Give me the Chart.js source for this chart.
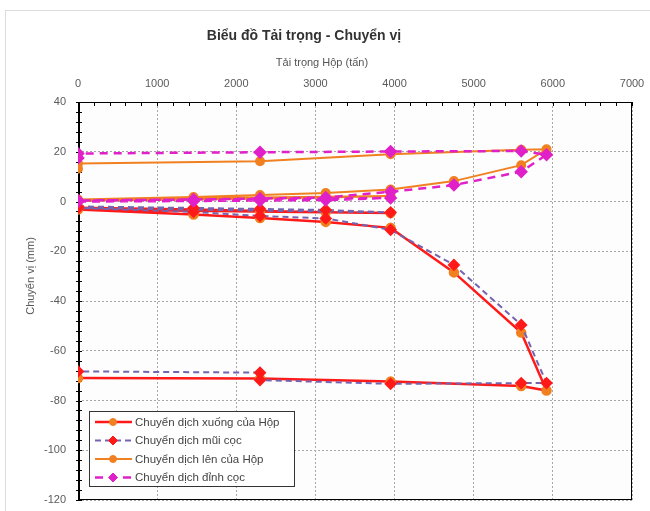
<!DOCTYPE html>
<html>
<head>
<meta charset="utf-8">
<script src="https://cdn.jsdelivr.net/npm/chart.js@4.4.0/dist/chart.umd.min.js"></script>
<style>
body { margin: 0; background: #fff; font-family: "Liberation Sans", Arial, sans-serif; }
#wrap { position: relative; width: 650px; height: 511px; overflow: hidden; }
#frame { position: absolute; left: 5px; top: 10px; width: 700px; height: 600px; border-left: 1px solid #dcdcdc; border-top: 1px solid #dcdcdc; }
canvas { position: absolute; left: 0; top: 0; }
.t { position: absolute; white-space: nowrap; text-align: center; }
#title { left: 0; top: 27px; width: 608px; font-weight: bold; font-size: 14px; line-height: 16px; color: #333; }
#xtitle { left: 0; top: 56px; width: 644px; font-size: 11px; line-height: 13px; color: #555; }
#ytitle { left: -70px; top: 269px; width: 200px; font-size: 11px; line-height: 14px; color: #555; transform: rotate(-90deg); }
</style>
</head>
<body>
<div id="wrap">
  <div id="frame"></div>
  <canvas id="myChart" width="650" height="511"></canvas>
  <div class="t" id="title">Biểu đồ Tải trọng - Chuyển vị</div>
  <div class="t" id="xtitle">Tải trọng Hộp (tấn)</div>
  <div class="t" id="ytitle">Chuyển vị (mm)</div>
</div>
<script>
'use strict';

// tai trong (tan) va chuyen vi (mm), doc tu bieu do
var seriesNames = ['Chuyển dịch xuống của Hộp', 'Chuyển dịch mũi cọc', 'Chuyển dịch lên của Hộp', 'Chuyển dịch đỉnh cọc'];

var downLoad = [0, 1460, 2300, 3130, 3950, 0, 1460, 2300, 3130, 3950, 4750, 5600, 5920, 5600, 3950, 2300, 0];
var downBox  = [-2.5, -3.2, -3.8, -4.3, -4.6, -3.2, -5.2, -6.6, -8.2, -10.6, -28.5, -52.7, -76, -74.2, -72.4, -71.2, -71];

var toeLoad = [0, 1460, 2300, 3130, 3950, 0, 1460, 2300, 3130, 3950, 4750, 5600, 5920, 5600, 3950, 2300, 2300, 0];
var toeDisp = [-2, -2.6, -3, -3.4, -4.4, -2.6, -4.2, -5.8, -6.8, -11.4, -25.5, -49.6, -73, -73, -73.3, -71.8, -68.8, -68.3];

var upLoad = [0, 1460, 2300, 3130, 3950, 0, 1460, 2300, 3130, 3950, 4750, 5600, 5920, 5600, 3950, 2300, 0, 0];
var upBox  = [0.3, 0.8, 1.2, 1.6, 2.2, 0.8, 1.8, 2.6, 3.4, 4.8, 8.2, 14.6, 21, 20.8, 19, 16.2, 15.3, 13.2];

var headLoad = [0, 1460, 2300, 3130, 3950, 0, 1460, 2300, 3130, 3950, 4750, 5600, 5920, 5600, 3950, 2300, 0, 0];
var headDisp = [0, 0.2, 0.4, 0.6, 1.4, 0.4, 0.8, 1.2, 1.6, 3.9, 6.6, 12, 18.8, 20.3, 20.1, 19.8, 19.3, 17.5];

var xMin = 0, xMax = 7000, xMajor = 1000, xMinor = 200;
var yMin = -120, yMax = 40, yMajor = 20, yMinor = 4;

function pts(xs, ys){
    return xs.map(function(x, i){ return { x: x, y: ys[i] }; });
}

var FONT = '"Liberation Sans", Arial, sans-serif';

var plotFrame = {
    id: 'plotFrame',
    beforeDraw: function(chart){
        var a = chart.chartArea, ctx = chart.ctx;
        ctx.save();
        ctx.fillStyle = '#fdfdfd';
        ctx.fillRect(a.left, a.top, a.right - a.left, a.bottom - a.top);
        ctx.restore();
    },
    beforeDatasetsDraw: function(chart){
        var a = chart.chartArea, ctx = chart.ctx;
        ctx.save();
        ctx.strokeStyle = '#000';
        ctx.lineWidth = 1;
        ctx.strokeRect(Math.round(a.left) + 0.5, Math.round(a.top) + 0.5, Math.round(a.right - a.left) - 1, Math.round(a.bottom - a.top) - 1);
        ctx.beginPath();
        ctx.moveTo(Math.round(a.left) + 1.5, a.top);
        ctx.lineTo(Math.round(a.left) + 1.5, a.bottom);
        // tick marks across the frame
        chart.scales.x.ticks.forEach(function(t){
            var px = Math.round(chart.scales.x.getPixelForValue(t.value)) + 0.5;
            ctx.moveTo(px, a.top);
            ctx.lineTo(px, a.top + 4);
        });
        chart.scales.y.ticks.forEach(function(t){
            var py = Math.round(chart.scales.y.getPixelForValue(t.value)) + 0.5;
            ctx.moveTo(a.left - 2, py);
            ctx.lineTo(a.left + 4, py);
        });
        ctx.stroke();
        ctx.restore();
    }
};

var boxLegend = {
    id: 'boxLegend',
    afterDraw: function(chart){
        var ctx = chart.ctx;
        var x0 = 89.5, y0 = 411.5, w = 205, h = 75;
        ctx.save();
        ctx.fillStyle = '#fff';
        ctx.fillRect(x0, y0, w, h);
        ctx.strokeStyle = '#333';
        ctx.lineWidth = 1;
        ctx.strokeRect(x0, y0, w, h);
        chart.data.datasets.forEach(function(ds, i){
            var y = 422 + i * 18.5;
            ctx.save();
            ctx.strokeStyle = ds.borderColor;
            ctx.lineWidth = ds.borderWidth;
            ctx.setLineDash(ds.borderDash || []);
            ctx.beginPath();
            ctx.moveTo(95, y);
            ctx.lineTo(132, y);
            ctx.stroke();
            ctx.restore();
            ctx.fillStyle = ds.pointBackgroundColor;
            ctx.strokeStyle = ds.pointBorderColor;
            ctx.lineWidth = 1;
            Chart.helpers.drawPoint(ctx, { pointStyle: ds.pointStyle, radius: ds.pointRadius - 0.5, rotation: 0, borderWidth: 1 }, 113, y);
            ctx.fillStyle = '#444';
            ctx.font = '11.5px ' + FONT;
            ctx.textBaseline = 'middle';
            ctx.textAlign = 'left';
            ctx.fillText(ds.label, 135, y + 0.5);
        });
        ctx.restore();
    }
};

var ctx = document.getElementById('myChart');
var myChart = new Chart(ctx, {
    type: 'scatter',
    data: {
        datasets: [{
            label: seriesNames[0],
            data: pts(downLoad, downBox),
            showLine: true,
            borderColor: '#ff1a1a',
            borderWidth: 2.5,
            pointStyle: 'circle',
            pointRadius: 4,
            pointBackgroundColor: '#f08020',
            pointBorderColor: '#f08020',
            order: 4
        }, {
            label: seriesNames[1],
            data: pts(toeLoad, toeDisp),
            showLine: true,
            borderColor: '#7464b0',
            borderWidth: 2,
            borderDash: [6, 4],
            pointStyle: 'rectRot',
            pointRadius: 5,
            pointBackgroundColor: '#ff1a1a',
            pointBorderColor: '#ff1a1a',
            order: 3
        }, {
            label: seriesNames[2],
            data: pts(upLoad, upBox),
            showLine: true,
            borderColor: '#f08020',
            borderWidth: 2,
            pointStyle: 'circle',
            pointRadius: 4,
            pointBackgroundColor: '#f08020',
            pointBorderColor: '#f08020',
            order: 2
        }, {
            label: seriesNames[3],
            data: pts(headLoad, headDisp),
            showLine: true,
            borderColor: '#e020c8',
            borderWidth: 2.5,
            borderDash: [8, 6],
            pointStyle: 'rectRot',
            pointRadius: 5,
            pointBackgroundColor: '#e020c8',
            pointBorderColor: '#e020c8',
            order: 1
        }]
    },
    options: {
        responsive: false,
        animation: false,
        layout: { padding: { left: 0, top: 0, right: 18, bottom: 11 } },
        plugins: {
            legend: { display: false },
            tooltip: { enabled: false },
            title: { display: false }
        },
        scales: {
            x: {
                type: 'linear',
                position: 'top',
                min: xMin,
                max: xMax,
                ticks: {
                    stepSize: xMinor,
                    autoSkip: false,
                    maxRotation: 0,
                    padding: 11,
                    color: '#5a5a5a',
                    font: { size: 11, family: FONT },
                    callback: function(v){ return v % xMajor === 0 ? v : ''; }
                },
                grid: {
                    drawTicks: false,
                    color: function(c){ return (c.tick && c.tick.value % xMajor === 0) ? '#a8a8a8' : 'rgba(0,0,0,0)'; }
                },
                border: { display: false, dash: [2, 2] },
                afterFit: function(s){ s.height = 102; s.paddingLeft = 0; s.paddingRight = 0; }
            },
            y: {
                type: 'linear',
                min: yMin,
                max: yMax,
                ticks: {
                    stepSize: yMinor,
                    autoSkip: false,
                    padding: 12,
                    color: '#5a5a5a',
                    font: { size: 11, family: FONT },
                    callback: function(v){ return v % yMajor === 0 ? v : ''; }
                },
                grid: {
                    drawTicks: false,
                    color: function(c){ return (c.tick && c.tick.value % yMajor === 0) ? '#a8a8a8' : 'rgba(0,0,0,0)'; }
                },
                border: { display: false, dash: [2, 2] },
                afterFit: function(s){ s.width = 78; s.paddingTop = 0; s.paddingBottom = 0; }
            }
        }
    },
    plugins: [plotFrame, boxLegend]
});
</script>
</body>
</html>
